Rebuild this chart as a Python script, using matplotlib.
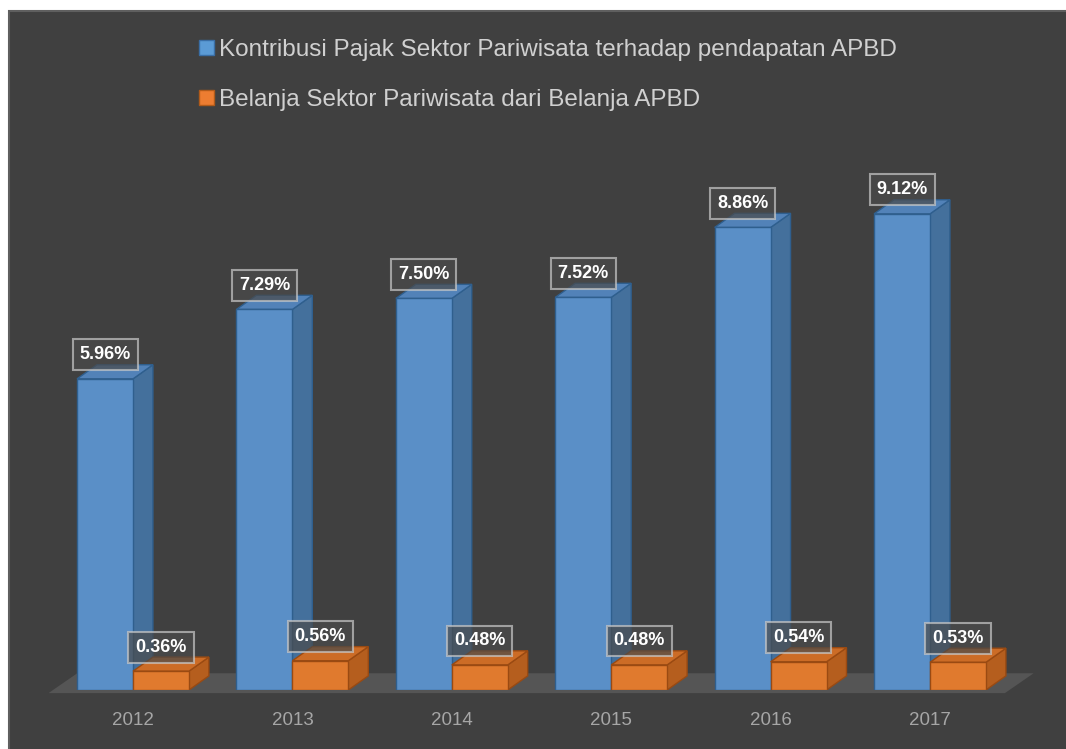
import matplotlib
matplotlib.use("Agg")
import matplotlib.pyplot as plt
from matplotlib.patches import Polygon, Rectangle, Patch

years = ["2012", "2013", "2014", "2015", "2016", "2017"]
kontribusi = [5.96, 7.29, 7.50, 7.52, 8.86, 9.12]
belanja = [0.36, 0.56, 0.48, 0.48, 0.54, 0.53]
labels = ["Kontribusi Pajak Sektor Pariwisata terhadap pendapatan APBD",
          "Belanja Sektor Pariwisata dari Belanja APBD"]

plt.rcParams["font.family"] = ["Liberation Sans", "DejaVu Sans"]

bg = "#404040"
blue = dict(front="#5A8FC7", side="#44709C", top="#5282B8", edge="#2F5F8E", legend="#5B9BD5")
orange = dict(front="#E07A2E", side="#B55E1E", top="#CC6C26", edge="#9A4A12", legend="#ED7D31")

fig = plt.figure(figsize=(10.66, 7.49), dpi=100)
fig.patch.set_facecolor("white")
fig.add_artist(Rectangle((9 / 1066, -0.05), 1.1, 1.05 - 11 / 749, transform=fig.transFigure,
                         facecolor=bg, edgecolor="#5f5f5f", linewidth=1.5, zorder=0))

ax = fig.add_axes([0.05, 0.0788, 0.8972, 0.697])
ax.set_facecolor("none")
ax.set_xlim(-0.5, len(years) - 0.5)
ax.set_ylim(0, 10)
for s in ax.spines.values():
    s.set_visible(False)
ax.set_yticks([])
ax.set_xticks(range(len(years)), years)
ax.tick_params(axis="x", length=0, pad=16, labelsize=13.5, labelcolor="#A6A6A6")

width = 0.351
dx, dy = 0.125, 0.27

# floor
n = len(years)
fx0, fx1, fy0 = -0.53, n - 0.53, -0.06
fdx, fdy = 0.18, 0.38
ax.add_patch(Polygon([(fx0, fy0), (fx1, fy0), (fx1 + fdx, fy0 + fdy), (fx0 + fdx, fy0 + fdy)],
                     closed=True, facecolor="#555555", edgecolor="none", clip_on=False, zorder=1))


def draw_bar(xc, h, c, z):
    ax.bar(xc, h, width, color=c["front"], edgecolor=c["edge"], linewidth=1, zorder=z + 0.2)
    xl, xr = xc - width / 2, xc + width / 2
    ax.add_patch(Polygon([(xr, 0), (xr + dx, dy), (xr + dx, h + dy), (xr, h)], closed=True,
                         facecolor=c["side"], edgecolor=c["edge"], linewidth=1, zorder=z))
    ax.add_patch(Polygon([(xl, h), (xl + dx, h + dy), (xr + dx, h + dy), (xr, h)], closed=True,
                         facecolor=c["top"], edgecolor=c["edge"], linewidth=1, zorder=z))
    ax.text(xc, h + 0.46, f"{h:.2f}%", ha="center", va="center", color="white",
            fontsize=13, fontweight="bold", zorder=20,
            bbox=dict(boxstyle="square,pad=0.38", facecolor="#4a4a4a", alpha=0.7,
                      edgecolor="#C8C8C8", linewidth=1.5))


for i in range(n):
    draw_bar(i - width / 2, kontribusi[i], blue, 2 + i * 2)
    draw_bar(i + width / 2, belanja[i], orange, 3 + i * 2)

handles = [Patch(facecolor=blue["legend"], edgecolor="#3a6ea5"),
           Patch(facecolor=orange["legend"], edgecolor="#b05a1a")]
leg = fig.legend(handles, labels, loc="upper left", bbox_to_anchor=(0.187, 0.948), frameon=False,
                 fontsize=17.5, handlelength=0.62, handleheight=0.58, handletextpad=0.2,
                 labelspacing=1.15, borderpad=0, borderaxespad=0)
for t in leg.get_texts():
    t.set_color("#D0D0D0")

fig.savefig("out.png", dpi=100, facecolor=fig.get_facecolor())
